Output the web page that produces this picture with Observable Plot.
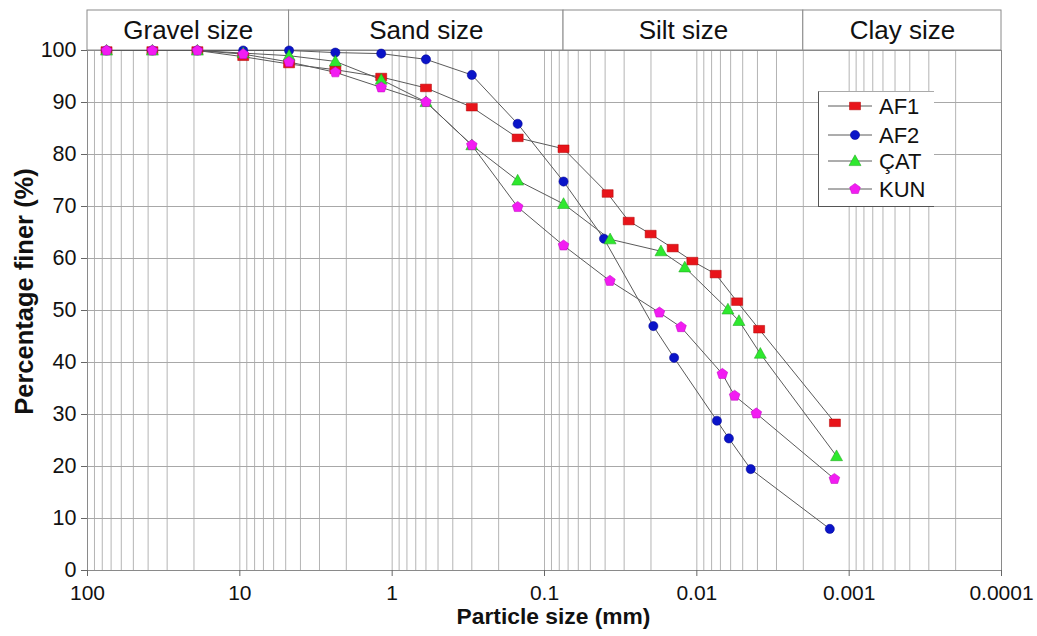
<!DOCTYPE html>
<html><head><meta charset="utf-8">
<script src="https://cdn.jsdelivr.net/npm/d3@7"></script>
<script src="https://cdn.jsdelivr.net/npm/@observablehq/plot@0.6"></script>
<style>
body{margin:0;background:#fff;font-family:"Liberation Sans",Arial,sans-serif;}
#wrap{position:relative;width:1037px;height:636px;overflow:hidden;}
#legend{position:absolute;left:818px;top:91px;width:116px;height:116px;background:#fff;border-top:1px solid #aaa;border-left:1.5px solid #555;border-bottom:1.5px solid #555;box-sizing:border-box;}
</style></head><body><div id="wrap"><div id="legend"></div></div>
<script>
// ---- data ----
const seriesNames = ["AF1", "AF2", "ÇAT", "KUN"];
const sieveSizes = [75, 37.5, 19, 9.5, 4.75, 2.36, 1.18, 0.6, 0.3, 0.15, 0.075];

const af1Sieve = [100, 100, 100, 98.8, 97.4, 96.3, 94.9, 92.8, 89.1, 83.2, 81.1];
const af1HydroSizes = [0.0385, 0.0280, 0.0201, 0.0144, 0.0107, 0.00752, 0.00544, 0.00390, 0.00124];
const af1Hydro = [72.5, 67.2, 64.7, 62.0, 59.5, 57.0, 51.7, 46.4, 28.4];

const af2Sieve = [100, 100, 100, 100, 100, 99.6, 99.4, 98.3, 95.3, 85.9, 74.8];
const af2HydroSizes = [0.0407, 0.0193, 0.0141, 0.00738, 0.00616, 0.00443, 0.00134];
const af2Hydro = [63.8, 47.0, 40.9, 28.8, 25.4, 19.5, 8.0];

const catSieve = [100, 100, 100, 99.5, 99.0, 97.9, 94.4, 90.1, 81.8, 75.0, 70.5];
const catHydroSizes = [0.0371, 0.0172, 0.0120, 0.00625, 0.00529, 0.00383, 0.00121];
const catHydro = [63.7, 61.4, 58.3, 50.2, 48.0, 41.7, 22.0];

const kunSieve = [100, 100, 100, 99.3, 97.8, 95.8, 92.9, 90.1, 81.8, 69.9, 62.5];
const kunHydroSizes = [0.0372, 0.0176, 0.0127, 0.00680, 0.00565, 0.00407, 0.00125];
const kunHydro = [55.7, 49.6, 46.8, 37.8, 33.6, 30.2, 17.6];

const xTicks = [100, 10, 1, 0.1, 0.01, 0.001, 0.0001];
const xTickLabels = ["100", "10", "1", "0.1", "0.01", "0.001", "0.0001"];
const yTicks = [0, 10, 20, 30, 40, 50, 60, 70, 80, 90, 100];

const zoneNames = ["Gravel size", "Sand size", "Silt size", "Clay size"];
const zoneBounds = [100, 4.75, 0.075, 0.002, 0.0001];

// ---- styles ----
const colors = {"AF1": "#e8141a", "AF2": "#0a14c8", "ÇAT": "#2ee82e", "KUN": "#f21cf2"};
const strokes = {"AF1": "#b00000", "AF2": "#000090", "ÇAT": "#1aa01a", "KUN": "#c000c0"};

const rectSym = {draw(c) { c.moveTo(-5.5, -3.8); c.lineTo(5.5, -3.8); c.lineTo(5.5, 3.8); c.lineTo(-5.5, 3.8); c.closePath(); }};
const circSym = {draw(c) { c.moveTo(4.6, 0); c.arc(0, 0, 4.6, 0, 2 * Math.PI); }};
const triSym = {draw(c) { c.moveTo(0, -6.2); c.lineTo(6, 4.6); c.lineTo(-6, 4.6); c.closePath(); }};
const pentSym = {draw(c) { for (let k = 0; k < 5; k++) { const a = -Math.PI / 2 + k * 2 * Math.PI / 5; const px = 5.6 * Math.cos(a), py = 5.6 * Math.sin(a); if (k === 0) c.moveTo(px, py); else c.lineTo(px, py); } c.closePath(); }};
const symbols = {"AF1": rectSym, "AF2": circSym, "ÇAT": triSym, "KUN": pentSym};

// ---- build table ----
const raw = [
  ["AF1", af1Sieve, af1HydroSizes, af1Hydro],
  ["AF2", af2Sieve, af2HydroSizes, af2Hydro],
  ["ÇAT", catSieve, catHydroSizes, catHydro],
  ["KUN", kunSieve, kunHydroSizes, kunHydro]
];
const rows = [];
for (const [name, sv, hs, hv] of raw) {
  sieveSizes.forEach((s, i) => rows.push({series: name, size: s, pct: sv[i]}));
  hs.forEach((s, i) => rows.push({series: name, size: s, pct: hv[i]}));
}
const zones = zoneNames.map((n, i) => ({name: n, from: zoneBounds[i], to: zoneBounds[i + 1]}));
const minorGrid = d3.scaleLog().domain([0.0001, 100]).ticks();

const marks = [
  Plot.ruleX(minorGrid, {x: d => d, stroke: "#b4b4b4", strokeWidth: 1}),
  Plot.ruleY(yTicks.slice(1, -1), {y: d => d, stroke: "#a8a8a8", strokeWidth: 1}),
  Plot.frame({stroke: "#8a8a8a"}),
  // header band
  Plot.rect(zones, {x1: "from", x2: "to", y1: 100, y2: 100, insetTop: -40, fill: "white", stroke: "#8a8a8a"}),
  Plot.text(zones, {x: d => Math.sqrt(d.from * d.to), y: 100, dy: -20, text: "name", fontSize: 26, fill: "#111"}),
  Plot.axisX({ticks: xTicks, tickFormat: d => xTickLabels[xTicks.indexOf(d)], tickSize: 6, tickPadding: 9, fontSize: 21, label: null, stroke: "#666"}),
  Plot.axisY({ticks: yTicks, tickSize: 6, tickPadding: 5, fontSize: 21.5, label: null, stroke: "#666"}),
  Plot.text(["Particle size (mm)"], {frameAnchor: "bottom", dx: 9, dy: 53, fontSize: 22.8, fontWeight: "bold", fill: "#111"}),
  Plot.text(["Percentage finer (%)"], {frameAnchor: "left", textAnchor: "middle", dx: -63, dy: -19, rotate: -90, fontSize: 25.5, fontWeight: "bold", fill: "#111"}),
];
for (const name of seriesNames) {
  marks.push(Plot.line(rows.filter(r => r.series === name), {x: "size", y: "pct", stroke: "#5a5a5a", strokeWidth: 1}));
}
for (const name of seriesNames) {
  marks.push(Plot.dot(rows.filter(r => r.series === name), {x: "size", y: "pct", symbol: () => symbols[name], fill: colors[name], stroke: strokes[name], strokeWidth: 0.5, r: 5}));
}

const chart = Plot.plot({
  width: 1037, height: 636,
  marginLeft: 87, marginRight: 36, marginTop: 50, marginBottom: 66,
  style: {fontFamily: "'Liberation Sans', Arial, sans-serif", background: "white", color: "#111"},
  x: {type: "log", domain: [100, 0.0001]},
  y: {domain: [0, 100]},
  symbol: {type: "identity"},
  marks
});
document.getElementById("wrap").prepend(chart);

// ---- legend ----
const lg = d3.select("#legend").append("svg").attr("width", 116).attr("height", 116);
const ly = [14, 43, 69, 97];
seriesNames.forEach((name, i) => {
  const g = lg.append("g").attr("transform", `translate(0,${ly[i]})`);
  g.append("line").attr("x1", 9).attr("x2", 53).attr("stroke", "#5a5a5a").attr("stroke-width", 1);
  const path = d3.path(); symbols[name].draw(path);
  g.append("path").attr("d", path.toString()).attr("transform", "translate(36,0)").attr("fill", colors[name]).attr("stroke", strokes[name]).attr("stroke-width", 0.5);
  g.append("text").attr("x", 60).attr("dy", "0.36em").attr("font-size", 22).attr("fill", "#111").text(name);
});
</script>
</body></html>
